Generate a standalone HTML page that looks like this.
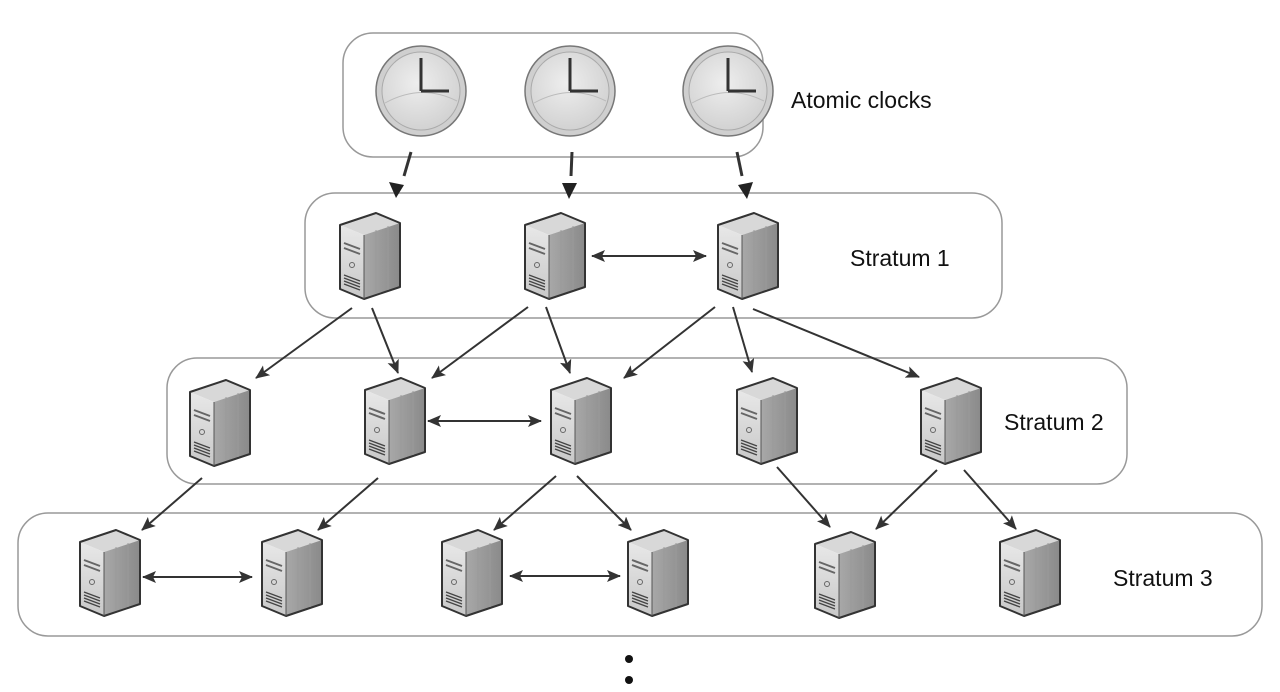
<!DOCTYPE html>
<html><head><meta charset="utf-8"><style>
html,body{margin:0;padding:0;background:#fff;}
svg{display:block;}
text{font-family:"Liberation Sans",sans-serif;font-size:23px;fill:#111;}
</style></head><body>
<svg width="1280" height="692" viewBox="0 0 1280 692" xmlns="http://www.w3.org/2000/svg">
<defs>
<marker id="ah" viewBox="0 0 14 12" refX="13" refY="6" markerWidth="14" markerHeight="12" orient="auto-start-reverse" markerUnits="userSpaceOnUse">
<path d="M0,0 L14,6 L0,12 L3,6 Z" fill="#333"/>
</marker>
<linearGradient id="side" x1="0" x2="1"><stop offset="0" stop-color="#a8a8a8"/><stop offset="1" stop-color="#8a8a8a"/></linearGradient>
<linearGradient id="front" x1="0" x2="0" y1="0" y2="1"><stop offset="0" stop-color="#e8e8e8"/><stop offset="1" stop-color="#c8c8c8"/></linearGradient>
<radialGradient id="clk" cx="0.45" cy="0.4" r="0.6"><stop offset="0" stop-color="#eeeeee"/><stop offset="1" stop-color="#d2d2d2"/></radialGradient>
<g id="srv">
<path d="M0,12 L36,0 L60,10 L24,22 Z" fill="#d8d8d8"/>
<path d="M0,12 L24,22 L24,86 L0,76 Z" fill="url(#front)"/>
<path d="M24,22 L60,10 L60,74 L24,86 Z" fill="url(#side)"/>
<path d="M0,12 L36,0 L60,10 L60,74 L24,86 L0,76 Z" fill="none" stroke="#333" stroke-width="2" stroke-linejoin="round"/>
<path d="M24,22 L24,86" stroke="#555" stroke-width="1"/>
<path d="M4,30 L20,36 M4,35 L20,41" stroke="#666" stroke-width="2"/>
<circle cx="12" cy="52" r="2.5" fill="none" stroke="#666"/>
<path d="M4,62 L20,68 M4,65 L20,71 M4,68 L20,74 M4,71 L20,77" stroke="#444" stroke-width="1.3"/>
<path d="M36,17 L36,80 M48,13 L48,77" stroke="#9a9a9a" stroke-width="1"/>
</g>
<g id="clock">
<circle r="45" fill="#cfcfcf" stroke="#777" stroke-width="1.5"/>
<circle r="39" fill="url(#clk)" stroke="#aaa" stroke-width="1"/>
<path d="M-36,12 Q0,-8 36,10" stroke="#bbb" fill="none"/>
<path d="M0,0 L0,-33 M0,0 L28,0" stroke="#333" stroke-width="3"/>
</g>
</defs>

<g fill="#fff" stroke="#999" stroke-width="1.5">
<rect x="343" y="33" width="420" height="124" rx="30"/>
<rect x="305" y="193" width="697" height="125" rx="30"/>
<rect x="167" y="358" width="960" height="126" rx="30"/>
<rect x="18" y="513" width="1244" height="123" rx="30"/>
</g>

<use href="#clock" x="421" y="91"/>
<use href="#clock" x="570" y="91"/>
<use href="#clock" x="728" y="91"/>

<g stroke="#333" stroke-width="3">
<line x1="411" y1="152" x2="404" y2="176"/>
<line x1="572" y1="152" x2="571" y2="176"/>
<line x1="737" y1="152" x2="742" y2="176"/>
</g>
<g fill="#222">
<path d="M389,182 L404,185 L396,198 Z"/>
<path d="M562,183 L577,183 L569,199 Z"/>
<path d="M738,185 L753,182 L747,199 Z"/>
</g>

<use href="#srv" x="340" y="213"/>
<use href="#srv" x="525" y="213"/>
<use href="#srv" x="718" y="213"/>
<use href="#srv" x="190" y="380"/>
<use href="#srv" x="365" y="378"/>
<use href="#srv" x="551" y="378"/>
<use href="#srv" x="737" y="378"/>
<use href="#srv" x="921" y="378"/>
<use href="#srv" x="80" y="530"/>
<use href="#srv" x="262" y="530"/>
<use href="#srv" x="442" y="530"/>
<use href="#srv" x="628" y="530"/>
<use href="#srv" x="815" y="532"/>
<use href="#srv" x="1000" y="530"/>

<g stroke="#333" stroke-width="2" fill="none" marker-end="url(#ah)">
<line x1="592" y1="256" x2="706" y2="256" marker-start="url(#ah)"/>
<line x1="428" y1="421" x2="541" y2="421" marker-start="url(#ah)"/>
<line x1="143" y1="577" x2="252" y2="577" marker-start="url(#ah)"/>
<line x1="510" y1="576" x2="620" y2="576" marker-start="url(#ah)"/>
<line x1="352" y1="308" x2="256" y2="378"/>
<line x1="372" y1="308" x2="398" y2="373"/>
<line x1="528" y1="307" x2="432" y2="378"/>
<line x1="546" y1="307" x2="570" y2="373"/>
<line x1="715" y1="307" x2="624" y2="378"/>
<line x1="733" y1="307" x2="752" y2="372"/>
<line x1="753" y1="309" x2="919" y2="377"/>
<line x1="202" y1="478" x2="142" y2="530"/>
<line x1="378" y1="478" x2="318" y2="530"/>
<line x1="556" y1="476" x2="494" y2="530"/>
<line x1="577" y1="476" x2="631" y2="530"/>
<line x1="777" y1="467" x2="830" y2="527"/>
<line x1="937" y1="470" x2="876" y2="529"/>
<line x1="964" y1="470" x2="1016" y2="529"/>
</g>

<text x="791" y="108">Atomic clocks</text>
<text x="850" y="266">Stratum 1</text>
<text x="1004" y="430">Stratum 2</text>
<text x="1113" y="586">Stratum 3</text>

<circle cx="629" cy="659" r="4" fill="#111"/>
<circle cx="629" cy="680" r="4" fill="#111"/>
</svg>
</body></html>
